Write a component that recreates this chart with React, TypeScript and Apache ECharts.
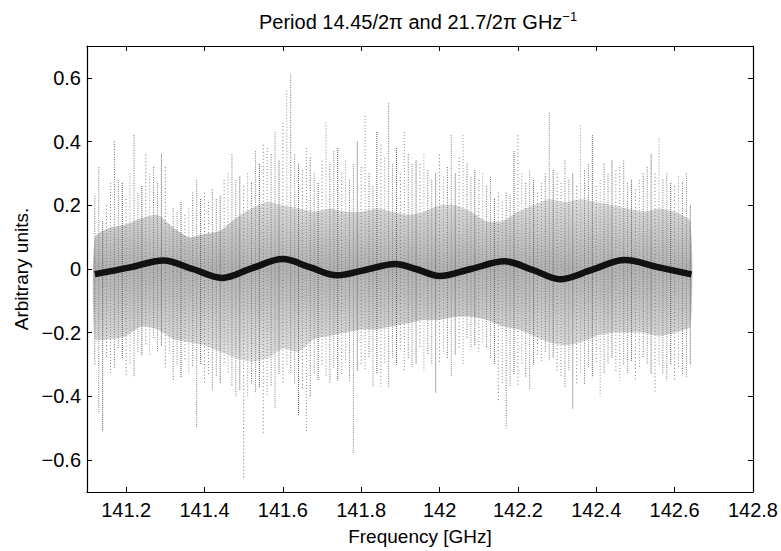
import React, { useEffect, useRef } from "react";
import * as echarts from "echarts";

// ---- noise envelope, one column every 0.01 GHz from 141.12 GHz ----
const noiseStart = 141.12;
const noiseStep = 0.01;
const noiseHigh = [
  0.23, 0.32, 0.15, 0.2, 0.27, 0.4, 0.28, 0.27, 0.22, 0.3,
  0.42, 0.24, 0.26, 0.36, 0.3, 0.32, 0.27, 0.36, 0.32, 0.14,
  0.19, 0.18, 0.21, 0.17, 0.19, 0.24, 0.28, 0.22, 0.24, 0.21,
  0.25, 0.22, 0.23, 0.28, 0.3, 0.36, 0.28, 0.29, 0.26, 0.3,
  0.27, 0.37, 0.33, 0.39, 0.38, 0.36, 0.43, 0.34, 0.46, 0.56,
  0.61, 0.36, 0.33, 0.31, 0.38, 0.35, 0.3, 0.27, 0.34, 0.46,
  0.33, 0.37, 0.38, 0.3, 0.34, 0.28, 0.33, 0.4, 0.32, 0.48,
  0.3, 0.26, 0.43, 0.39, 0.35, 0.52, 0.33, 0.38, 0.3, 0.43,
  0.36, 0.33, 0.34, 0.33, 0.36, 0.31, 0.28, 0.3, 0.36, 0.29,
  0.32, 0.42, 0.3, 0.35, 0.42, 0.33, 0.29, 0.31, 0.28, 0.3,
  0.26, 0.29, 0.22, 0.24, 0.21, 0.24, 0.23, 0.37, 0.42, 0.3,
  0.27, 0.31, 0.28, 0.24, 0.27, 0.3, 0.49, 0.31, 0.3, 0.27,
  0.34, 0.28, 0.3, 0.26, 0.45, 0.31, 0.33, 0.42, 0.26, 0.28,
  0.33, 0.3, 0.34, 0.31, 0.32, 0.34, 0.27, 0.28, 0.25, 0.28,
  0.3, 0.32, 0.36, 0.3, 0.41, 0.28, 0.3, 0.27, 0.26, 0.29,
  0.27, 0.3, 0.2,
];
const noiseLow = [
  -0.3, -0.45, -0.51, -0.28, -0.33, -0.31, -0.25, -0.28, -0.34, -0.3,
  -0.34, -0.26, -0.27, -0.24, -0.27, -0.22, -0.26, -0.24, -0.31, -0.27,
  -0.35, -0.3, -0.34, -0.29, -0.33, -0.31, -0.5, -0.3, -0.36, -0.33,
  -0.38, -0.34, -0.36, -0.3, -0.33, -0.37, -0.4, -0.38, -0.66, -0.4,
  -0.36, -0.39, -0.37, -0.52, -0.4, -0.37, -0.44, -0.33, -0.36, -0.3,
  -0.33, -0.36, -0.46, -0.38, -0.51, -0.4, -0.33, -0.35, -0.3, -0.34,
  -0.36, -0.31, -0.35, -0.33, -0.3, -0.35, -0.58, -0.32, -0.3, -0.32,
  -0.28, -0.37, -0.33, -0.37, -0.3, -0.37, -0.28, -0.3, -0.26, -0.32,
  -0.28, -0.31, -0.3, -0.25, -0.32, -0.27, -0.3, -0.39, -0.3, -0.26,
  -0.28, -0.34, -0.27, -0.25, -0.3, -0.22, -0.25, -0.24, -0.26, -0.23,
  -0.25, -0.28, -0.3, -0.42, -0.36, -0.5, -0.37, -0.33, -0.37, -0.3,
  -0.34, -0.38, -0.3, -0.27, -0.29, -0.26, -0.29, -0.28, -0.32, -0.34,
  -0.37, -0.32, -0.44, -0.36, -0.33, -0.36, -0.31, -0.34, -0.3, -0.4,
  -0.33, -0.3, -0.28, -0.32, -0.35, -0.3, -0.33, -0.29, -0.35, -0.31,
  -0.28, -0.3, -0.33, -0.39, -0.3, -0.33, -0.35, -0.3, -0.35, -0.31,
  -0.33, -0.34, -0.3,
];

// ---- dense core of the noise, every 0.04 GHz from 141.12 GHz ----
const coreStep = 0.04;
const coreHigh = [
  0.1, 0.13, 0.14, 0.16, 0.17, 0.13, 0.1, 0.11, 0.12, 0.16,
  0.19, 0.21, 0.2, 0.19, 0.18, 0.19, 0.18, 0.18, 0.19, 0.18,
  0.17, 0.18, 0.2, 0.2, 0.18, 0.15, 0.15, 0.18, 0.2, 0.22,
  0.21, 0.22, 0.21, 0.2, 0.19, 0.18, 0.19, 0.18, 0.15,
];
const coreLow = [
  -0.22, -0.22, -0.21, -0.18, -0.19, -0.22, -0.23, -0.24, -0.26, -0.28,
  -0.29, -0.28, -0.25, -0.26, -0.22, -0.21, -0.2, -0.19, -0.19, -0.18,
  -0.17, -0.16, -0.16, -0.15, -0.15, -0.16, -0.18, -0.19, -0.21, -0.23,
  -0.24, -0.23, -0.21, -0.2, -0.2, -0.2, -0.21, -0.2, -0.18,
];

// ---- fitted curve ----
const fitFreq = [
  141.12, 141.21, 141.295, 141.37, 141.445, 141.52, 141.6, 141.67, 141.738, 141.81,
  141.886, 141.94, 142.0, 142.08, 142.166, 142.24, 142.307, 142.39, 142.472, 142.56,
  142.643,
];
const fitValue = [
  -0.016, 0.005, 0.027, 0.0, -0.028, 0.002, 0.031, 0.005, -0.02, -0.003,
  0.016, 0.0, -0.022, 0.0, 0.024, -0.004, -0.032, -0.002, 0.028, 0.005,
  -0.017,
];

const X_MIN = 141.1;
const X_MAX = 142.8;
const Y_MIN = -0.7;
const Y_MAX = 0.7;

const FONT = "'Liberation Sans', Arial, Helvetica, sans-serif";

const fmtY = (v: number) => {
  if (Math.abs(v) < 1e-9) return "0";
  const s = Math.abs(v).toFixed(1);
  return v < 0 ? "\u2212" + s : s;
};
const fmtX = (v: number) => {
  const r = Math.round(v * 10) / 10;
  return Number.isInteger(r) ? String(r) : r.toFixed(1);
};

const dashes = [[1, 1.5], [1, 1], [1, 2], [1, 1.2], [1, 2.5]];
const greys = ["#6a6a6a", "#808080", "#555555", "#747474", "#8c8c8c"];

export default function App() {
  const ref = useRef<HTMLDivElement>(null);

  useEffect(() => {
    if (!ref.current) return;
    const chart = echarts.init(ref.current, undefined, { renderer: "svg" });

    const spikeData = noiseHigh.map((h, i) => [
      +(noiseStart + i * noiseStep).toFixed(3),
      h,
      noiseLow[i],
    ]);
    const coreData = coreHigh.map((h, i) => [
      +(noiseStart + i * coreStep).toFixed(3),
      h,
      coreLow[i],
    ]);
    const fitData = fitFreq.map((f, i) => [f, fitValue[i]]);

    const axisCommon = {
      type: "value" as const,
      axisLine: { show: true, onZero: false, lineStyle: { color: "#000", width: 1.2 } },
      axisTick: { show: true, inside: true, length: 5, lineStyle: { color: "#000", width: 1 } },
      splitLine: { show: false },
    };

    chart.setOption({
      animation: false,
      backgroundColor: "#fff",
      title: {
        text: "Period 14.45/2\u03c0 and 21.7/2\u03c0 GHz{sup|\u22121}",
        left: 254,
        top: 5,
        textStyle: {
          fontFamily: FONT,
          fontSize: 20,
          fontWeight: "normal",
          color: "#000",
          rich: {
            sup: { fontFamily: FONT, fontSize: 13, color: "#000", padding: [0, 0, 11, 0] },
          },
        },
      },
      grid: { left: 87, right: 28, top: 46, bottom: 58, containLabel: false },
      xAxis: [
        {
          ...axisCommon,
          position: "bottom",
          min: X_MIN,
          max: X_MAX,
          splitNumber: 8,
          name: "Frequency [GHz]",
          nameLocation: "middle",
          nameGap: 35,
          nameTextStyle: { fontFamily: FONT, fontSize: 19, color: "#000" },
          axisLabel: {
            fontFamily: FONT,
            fontSize: 20,
            color: "#000",
            margin: 8,
            showMinLabel: false,
            formatter: (v: number) => fmtX(v),
          },
        },
        {
          ...axisCommon,
          position: "top",
          min: X_MIN,
          max: X_MAX,
          splitNumber: 8,
          axisLabel: { show: false },
        },
      ],
      yAxis: [
        {
          ...axisCommon,
          position: "left",
          min: Y_MIN,
          max: Y_MAX,
          splitNumber: 7,
          name: "Arbitrary units.",
          nameLocation: "middle",
          nameGap: 54,
          nameTextStyle: { fontFamily: FONT, fontSize: 19, color: "#000" },
          axisLabel: {
            fontFamily: FONT,
            fontSize: 20,
            color: "#000",
            margin: 6,
            showMinLabel: false,
            showMaxLabel: false,
            formatter: (v: number) => fmtY(v),
          },
        },
        {
          ...axisCommon,
          position: "right",
          min: Y_MIN,
          max: Y_MAX,
          splitNumber: 7,
          axisLabel: { show: false },
        },
      ],
      series: [
        {
          type: "custom",
          name: "core",
          silent: true,
          data: coreData,
          encode: { x: 0, y: [1, 2] },
          renderItem: (params: any, api: any) => {
            if (params.dataIndex !== 0) return null;
            const top = coreData.map((d) => api.coord([d[0], d[1]]));
            const bottom = coreData
              .slice()
              .reverse()
              .map((d) => api.coord([d[0], d[2]]));
            const yTop = api.coord([X_MIN, 0.25])[1];
            const yBot = api.coord([X_MIN, -0.3])[1];
            return {
              type: "polygon",
              shape: { points: top.concat(bottom), smooth: 0.2 },
              style: {
                fill: new echarts.graphic.LinearGradient(
                  0,
                  yTop,
                  0,
                  yBot,
                  [
                    { offset: 0, color: "#e2e2e2" },
                    { offset: 0.45, color: "#b0b0b0" },
                    { offset: 1, color: "#e2e2e2" },
                  ],
                  true
                ),
              },
            };
          },
          z: 1,
        },
        {
          type: "custom",
          name: "noise",
          silent: true,
          data: spikeData,
          encode: { x: 0, y: [1, 2] },
          renderItem: (params: any, api: any) => {
            const x = api.value(0);
            const p1 = api.coord([x, api.value(1)]);
            const p2 = api.coord([x, api.value(2)]);
            const k = params.dataIndex % 5;
            return {
              type: "line",
              shape: { x1: p1[0], y1: p1[1], x2: p2[0], y2: p2[1] },
              style: { stroke: greys[k], lineWidth: 1, lineDash: dashes[(params.dataIndex * 3) % 5] },
            };
          },
          z: 2,
        },
        {
          type: "line",
          name: "fit",
          data: fitData,
          smooth: 0.35,
          symbol: "none",
          lineStyle: { color: "#111", width: 6.5 },
          z: 5,
        },
      ],
    });

    return () => chart.dispose();
  }, []);

  return (
    <div
      ref={ref}
      style={{ position: "fixed", left: 0, top: 0, width: 781, height: 551 }}
    />
  );
}
